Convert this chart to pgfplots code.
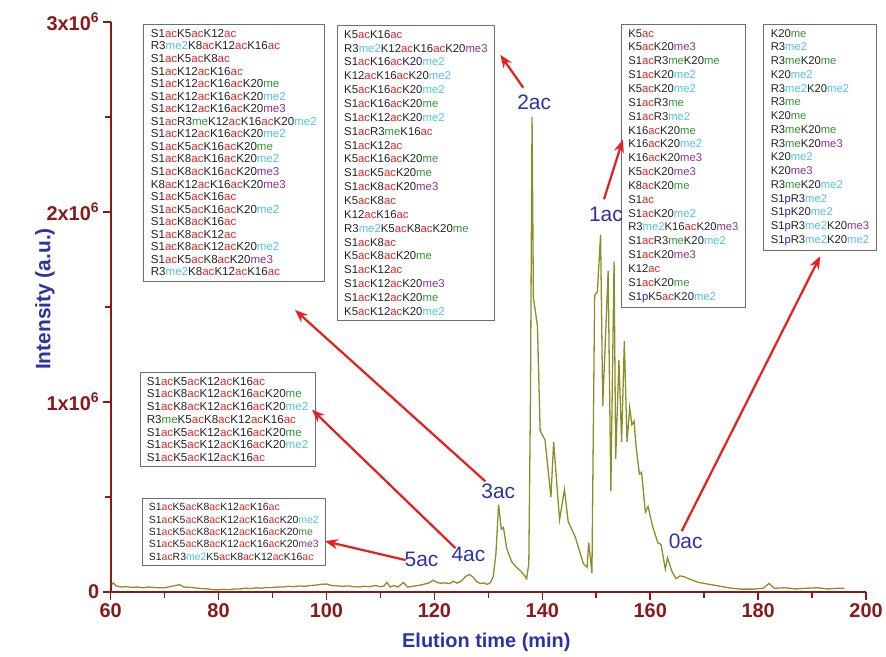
\documentclass[border=0pt]{standalone}
\usepackage{pgfplots}
\pgfplotsset{compat=1.18}
\usepackage{fontspec}
\setmainfont{Liberation Sans}
\usetikzlibrary{arrows.meta}
\definecolor{axred}{RGB}{140,25,25}
\definecolor{labblue}{RGB}{45,50,165}
\definecolor{arrred}{RGB}{232,30,30}
\definecolor{curve}{RGB}{140,140,40}
\definecolor{acc}{RGB}{222,40,40}
\definecolor{mec}{RGB}{50,150,50}
\definecolor{mebc}{RGB}{80,195,220}
\definecolor{mecc}{RGB}{140,50,150}
\definecolor{phc}{RGB}{40,40,170}
\definecolor{txt}{RGB}{35,35,35}
\definecolor{boxg}{RGB}{110,110,110}
\newcommand{\AC}{\textcolor{acc}{ac}}
\newcommand{\ME}{\textcolor{mec}{me}}
\newcommand{\MEB}{\textcolor{mebc}{me2}}
\newcommand{\MEC}{\textcolor{mecc}{me3}}
\newcommand{\PH}{\textcolor{phc}{p}}
\tikzset{lbox/.style={draw=boxg, line width=0.8pt, fill=white, anchor=north west, align=left, inner xsep=7pt, inner ysep=5pt, text=txt},
 plab/.style={text=labblue, font=\fontsize{21}{24}\selectfont},
 parr/.style={draw=arrred, line width=2.2pt, -{Stealth[length=13pt,width=10pt]}}}
\begin{document}
\begin{tikzpicture}
\begin{scope}[x=1pt,y=-1pt,shift={(-111pt,594pt)}]
\useasboundingbox (0,0) rectangle (886,659);
\end{scope}
\begin{axis}[
 at={(0pt,0pt)}, anchor=south west,
 scale only axis, width=758pt, height=572pt,
 xmin=60, xmax=200, ymin=0, ymax=3,
 axis lines*=left,
 axis line style={draw=axred, line width=1.8pt},
 tick style={draw=axred, line width=1.6pt},
 tick align=outside,
 major tick length=8pt, minor tick length=6pt,
 xtick={60,80,...,200}, xticklabels={60,80,100,120,140,160,180,200},
 minor x tick num=1,
 ytick={0,1,2,3}, yticklabels={0,1x10\textsuperscript{6},2x10\textsuperscript{6},3x10\textsuperscript{6}},
 minor y tick num=1,
 scaled y ticks=false,
 ticklabel style={font=\fontsize{20}{24}\selectfont\bfseries, text=axred},
 clip=false,
]
\addplot[curve, line width=1.3pt] coordinates {
(60.2,0.040)(60.5,0.048)(61,0.032)(62,0.026)(63,0.028)(64,0.024)(65,0.026)(66,0.022)(67,0.026)(68,0.024)(69,0.022)(70,0.022)(71,0.028)(72,0.034)(72.8,0.038)(73.6,0.026)(75,0.024)(76,0.02)(77,0.018)(78,0.016)(79,0.012)(80,0.012)(81,0.014)(82,0.012)(83,0.016)(84,0.016)(85,0.02)(86,0.018)(87,0.022)(88,0.02)(89,0.024)(90,0.024)(91,0.026)(92,0.026)(93,0.03)(94,0.028)(95,0.032)(96,0.03)(97,0.034)(98,0.036)(99,0.04)(100,0.042)(101,0.034)(102,0.032)(103,0.03)(104,0.032)(105,0.028)(106,0.026)(107,0.03)(108,0.028)(109,0.034)(110,0.028)(110.6,0.03)(111.2,0.05)(111.8,0.026)(112.5,0.034)(113.2,0.026)(114.3,0.05)(115,0.026)(116,0.03)(117,0.034)(118,0.04)(119,0.048)(119.8,0.062)(120.5,0.05)(121.2,0.046)(122,0.048)(122.8,0.044)(123.5,0.056)(124.2,0.046)(125,0.058)(125.8,0.082)(126.5,0.092)(127.2,0.078)(127.8,0.055)(128.5,0.045)(129.2,0.048)(129.8,0.04)(130.4,0.05)(130.9,0.08)(131.4,0.2)(131.9,0.46)(132.4,0.33)(132.8,0.34)(133.4,0.23)(134.3,0.16)(135.2,0.13)(136.0,0.11)(136.6,0.09)(137.1,0.07)(137.5,0.15)(137.8,1.0)(138.1,2.50)(138.35,1.55)(139.1,1.40)(139.6,0.85)(140.5,0.80)(141.6,0.50)(142.1,0.79)(143.2,0.38)(144.1,0.54)(144.8,0.37)(146.1,0.29)(147.6,0.15)(148.3,0.13)(148.6,0.26)(149.2,0.10)(149.7,1.56)(150.2,1.58)(150.8,1.88)(151.2,0.98)(152.2,1.69)(152.7,0.53)(153.3,1.74)(153.6,0.70)(154.2,1.22)(154.7,0.79)(155.2,1.32)(155.7,0.79)(156.2,0.97)(156.6,0.88)(157.0,0.90)(157.4,0.76)(158.0,0.62)(158.4,0.63)(159.1,0.42)(159.6,0.45)(160.4,0.35)(161.4,0.26)(162.0,0.25)(162.8,0.12)(163.2,0.18)(164.0,0.11)(164.8,0.07)(165.5,0.085)(166.3,0.08)(167.5,0.065)(169,0.05)(171,0.04)(173,0.03)(175,0.02)(177,0.015)(179,0.015)(181,0.02)(182,0.045)(183,0.02)(185,0.022)(187,0.016)(189,0.02)(191,0.022)(193,0.016)(195,0.02)(196,0.02)
};
\end{axis}
\begin{scope}[x=1pt,y=-1pt,shift={(-111pt,594pt)}]
\node[rotate=90, text=labblue, font=\fontsize{21}{24}\selectfont\bfseries] at (45,300) {Intensity (a.u.)};
\node[text=labblue, font=\fontsize{20}{24}\selectfont\bfseries] at (488,645) {Elution time (min)};
% boxes
\node[lbox, inner xsep=8pt, font=\fontsize{11.6}{12.6}\selectfont] at (143,24) {S1\AC K5\AC K12\AC\\
R3\MEB K8\AC K12\AC K16\AC\\
S1\AC K5\AC K8\AC\\
S1\AC K12\AC K16\AC\\
S1\AC K12\AC K16\AC K20\ME\\
S1\AC K12\AC K16\AC K20\MEB\\
S1\AC K12\AC K16\AC K20\MEC\\
S1\AC R3\ME K12\AC K16\AC K20\MEB\\
S1\AC K12\AC K16\AC K20\MEB\\
S1\AC K5\AC K16\AC K20\ME\\
S1\AC K8\AC K16\AC K20\MEB\\
S1\AC K8\AC K16\AC K20\MEC\\
K8\AC K12\AC K16\AC K20\MEC\\
S1\AC K5\AC K16\AC\\
S1\AC K5\AC K16\AC K20\MEB\\
S1\AC K8\AC K16\AC\\
S1\AC K8\AC K12\AC\\
S1\AC K8\AC K12\AC K20\MEB\\
S1\AC K5\AC K8\AC K20\MEC\\
R3\MEB K8\AC K12\AC K16\AC};
\node[lbox, font=\fontsize{11.4}{13.9}\selectfont] at (338,25) {K5\AC K16\AC\\
R3\MEB K12\AC K16\AC K20\MEC\\
S1\AC K16\AC K20\MEB\\
K12\AC K16\AC K20\MEB\\
K5\AC K16\AC K20\MEB\\
S1\AC K16\AC K20\ME\\
S1\AC K12\AC K20\MEB\\
S1\AC R3\ME K16\AC\\
S1\AC K12\AC\\
K5\AC K16\AC K20\ME\\
S1\AC K5\AC K20\ME\\
S1\AC K8\AC K20\MEC\\
K5\AC K8\AC\\
K12\AC K16\AC\\
R3\MEB K5\AC K8\AC K20\ME\\
S1\AC K8\AC\\
K5\AC K8\AC K20\ME\\
S1\AC K12\AC\\
S1\AC K12\AC K20\MEC\\
S1\AC K12\AC K20\ME\\
K5\AC K12\AC K20\MEB};
\node[lbox, font=\fontsize{11.3}{13.9}\selectfont] at (623,24) {K5\AC\\
K5\AC K20\MEC\\
S1\AC R3\ME K20\ME\\
S1\AC K20\MEB\\
K5\AC K20\MEB\\
S1\AC R3\ME\\
S1\AC R3\MEB\\
K16\AC K20\ME\\
K16\AC K20\MEB\\
K16\AC K20\MEC\\
K5\AC K20\MEC\\
K8\AC K20\ME\\
S1\AC\\
S1\AC K20\MEB\\
R3\MEB K16\AC K20\MEC\\
S1\AC R3\ME K20\MEB\\
S1\AC K20\MEC\\
K12\AC\\
S1\AC K20\ME\\
S1\PH K5\AC K20\MEB};
\node[lbox, font=\fontsize{11.3}{13.8}\selectfont] at (766,24) {K20\ME\\
R3\MEB\\
R3\ME K20\ME\\
K20\MEB\\
R3\MEB K20\MEB\\
R3\ME\\
K20\ME\\
R3\ME K20\ME\\
R3\ME K20\MEC\\
K20\MEB\\
K20\MEC\\
R3\ME K20\MEB\\
S1\PH R3\MEB\\
S1\PH K20\MEB\\
S1\PH R3\MEB K20\MEC\\
S1\PH R3\MEB K20\MEB};
\node[lbox, font=\fontsize{11.6}{12.8}\selectfont] at (140,373) {S1\AC K5\AC K12\AC K16\AC\\
S1\AC K8\AC K12\AC K16\AC K20\ME\\
S1\AC K8\AC K12\AC K16\AC K20\MEB\\
R3\ME K5\AC K8\AC K12\AC K16\AC\\
S1\AC K5\AC K12\AC K16\AC K20\ME\\
S1\AC K5\AC K12\AC K16\AC K20\MEB\\
S1\AC K5\AC K12\AC K16\AC};
\node[lbox, font=\fontsize{10.5}{12.3}\selectfont] at (142,500) {S1\AC K5\AC K8\AC K12\AC K16\AC\\
S1\AC K5\AC K8\AC K12\AC K16\AC K20\MEB\\
S1\AC K5\AC K8\AC K12\AC K16\AC K20\ME\\
S1\AC K5\AC K8\AC K12\AC K16\AC K20\MEC\\
S1\AC R3\MEB K5\AC K8\AC K12\AC K16\AC};
% arrows
\draw[parr] (525,88) -- (502,55);
\draw[parr] (606,200) -- (625,140);
\draw[parr] (487,483) -- (296,311);
\draw[parr] (457,550) -- (313,411);
\draw[parr] (407,562) -- (326,543);
\draw[parr] (684,533) -- (823,257);
% peak labels
\node[plab] at (536,103) {2ac};
\node[plab] at (608,215) {1ac};
\node[plab] at (500,493) {3ac};
\node[plab] at (470,556) {4ac};
\node[plab] at (423,561) {5ac};
\node[plab] at (688,543) {0ac};
\end{scope}
\end{tikzpicture}
\end{document}
